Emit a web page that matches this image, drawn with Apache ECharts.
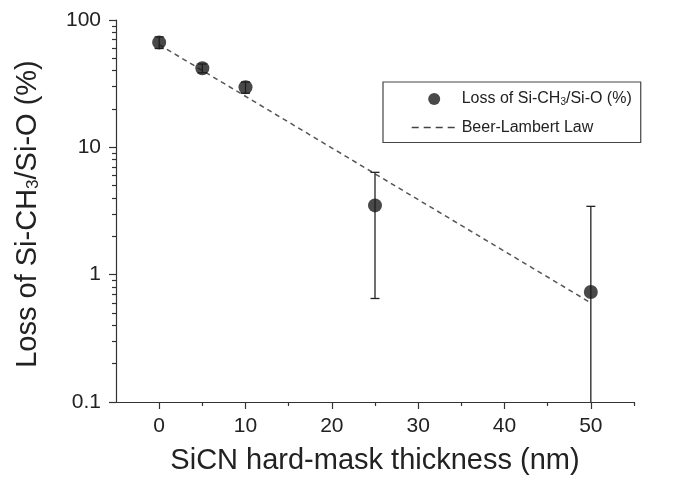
<!DOCTYPE html>
<html>
<head>
<meta charset="utf-8">
<script src="https://cdn.jsdelivr.net/npm/echarts@6/dist/echarts.min.js"></script>
<style>
  html, body { margin: 0; padding: 0; background: #fff; }
  #chart { width: 684px; height: 484px; }
</style>
</head>
<body>
<div id="chart"></div>
<script>
// Measured loss of Si-CH3/Si-O versus SiCN hard-mask thickness
const thickness = [0, 5, 10, 25, 50];
const loss = [66.7, 41.8, 29.6, 3.5, 0.73];
const lossLow = [59.7, 38.5, 26.6, 0.65, 0.01];
const lossHigh = [73.7, 45.1, 32.6, 6.36, 3.44];

// Beer-Lambert fit (straight line on the log axis)
const fitThickness = [0, 50];
const fitLoss = [64, 0.6];

// Axis ticks
const xMajorTicks = [0, 10, 20, 30, 40, 50];
const xMinorTicks = [5, 15, 25, 35, 45, 55];
const yMinorTicks = [0.2, 0.3, 0.4, 0.5, 0.6, 0.7, 0.8, 0.9,
                     2, 3, 4, 5, 6, 7, 8, 9,
                     20, 30, 40, 50, 60, 70, 80, 90];

const FONT = 'Liberation Sans, Arial, sans-serif';
const INK = '#222';
const AXIS = '#333';

const pointData = thickness.map((x, i) => [x, loss[i]]);
const barData = thickness.map((x, i) => [x, loss[i], lossLow[i], lossHigh[i]]);
const fitData = fitThickness.map((x, i) => [x, fitLoss[i]]);

const chart = echarts.init(document.getElementById('chart'), null, { renderer: 'canvas' });
chart.setOption({
  animation: false,
  backgroundColor: '#fff',
  textStyle: { fontFamily: FONT, color: INK },
  grid: { left: 116, right: 50, top: 20, bottom: 82, containLabel: false },
  legend: {
    orient: 'vertical',
    left: 383,
    top: 82,
    padding: [9, 9, 7, 28],
    itemWidth: 45,
    itemHeight: 12,
    itemGap: 12,
    borderColor: '#444',
    borderWidth: 1.2,
    borderRadius: 0,
    lineStyle: { type: [7, 5], width: 1.4 },
    data: [
      { name: 'loss', icon: 'circle' },
      {
        name: 'fit',
        itemStyle: { color: 'rgba(0,0,0,0)', borderWidth: 0, opacity: 0 },
        lineStyle: { color: '#444', width: 1.4, type: [7, 5] }
      }
    ],
    formatter: name => name === 'loss' ? 'Loss of Si-CH{sub|3}/Si-O (%)' : 'Beer-Lambert Law',
    textStyle: { fontSize: 16, fontFamily: FONT, color: INK, rich: {
      sub: { fontSize: 10, fontFamily: FONT, color: INK, verticalAlign: 'bottom', padding: [7, 0, 0, 0] }
    } }
  },
  xAxis: [
    {
      type: 'value',
      min: -5,
      max: 55,
      name: 'SiCN hard-mask thickness (nm)',
      nameLocation: 'middle',
      nameGap: 44,
      nameTextStyle: { fontSize: 29, fontFamily: FONT, color: INK },
      axisLine: { show: true, onZero: false, lineStyle: { color: AXIS, width: 1.2 } },
      axisTick: { show: true, customValues: xMajorTicks, length: 7, lineStyle: { color: AXIS, width: 1.2 } },
      axisLabel: { customValues: xMajorTicks, fontSize: 21, fontFamily: FONT, color: INK, margin: 14 },
      splitLine: { show: false }
    },
    {
      type: 'value',
      min: -5,
      max: 55,
      position: 'bottom',
      axisLine: { show: false, onZero: false },
      axisTick: { show: true, customValues: xMinorTicks, length: 4, lineStyle: { color: AXIS, width: 1.2 } },
      axisLabel: { show: false },
      splitLine: { show: false }
    }
  ],
  yAxis: [
    {
      type: 'log',
      logBase: 10,
      min: 0.1,
      max: 100,
      name: 'Loss of Si-CH{sub|3}/Si-O (%)',
      nameLocation: 'middle',
      nameGap: 74,
      nameTextStyle: { fontSize: 29, fontFamily: FONT, color: INK, padding: [0, 6, 0, 0], rich: {
        sub: { fontSize: 17, fontFamily: FONT, color: INK, verticalAlign: 'bottom', padding: [12, 0, 0, 0] }
      } },
      axisLine: { show: true, onZero: false, lineStyle: { color: AXIS, width: 1.2 } },
      axisTick: { show: true, length: 7, lineStyle: { color: AXIS, width: 1.2 } },
      axisLabel: { fontSize: 21, fontFamily: FONT, color: INK, margin: 15,
        formatter: v => String(+v.toPrecision(3)) },
      splitLine: { show: false },
      minorTick: { show: false }
    },
    {
      type: 'log',
      logBase: 10,
      min: 0.1,
      max: 100,
      position: 'left',
      axisLine: { show: false, onZero: false },
      axisTick: { show: true, customValues: yMinorTicks, length: 4, lineStyle: { color: AXIS, width: 1.2 } },
      axisLabel: { show: false },
      splitLine: { show: false }
    }
  ],
  series: [
    {
      name: 'fit',
      type: 'line',
      xAxisIndex: 0,
      yAxisIndex: 0,
      data: fitData,
      showSymbol: false,
      symbol: 'none',
      lineStyle: { color: '#555', width: 1.5, type: [5, 4] },
      itemStyle: { color: '#555' },
      z: 2
    },
    {
      name: 'errorbars',
      type: 'custom',
      xAxisIndex: 0,
      yAxisIndex: 0,
      data: barData,
      clip: true,
      encode: { x: 0, y: 1 },
      renderItem: (params, api) => {
        const x = api.value(0);
        const lo = api.coord([x, api.value(2)]);
        const hi = api.coord([x, api.value(3)]);
        const cap = 4.5;
        const style = { stroke: '#222', lineWidth: 1.3 };
        return {
          type: 'group',
          children: [
            { type: 'line', shape: { x1: hi[0], y1: hi[1], x2: lo[0], y2: lo[1] }, style },
            { type: 'line', shape: { x1: hi[0] - cap, y1: hi[1], x2: hi[0] + cap, y2: hi[1] }, style },
            { type: 'line', shape: { x1: lo[0] - cap, y1: lo[1], x2: lo[0] + cap, y2: lo[1] }, style }
          ]
        };
      },
      z: 3
    },
    {
      name: 'loss',
      type: 'scatter',
      xAxisIndex: 0,
      yAxisIndex: 0,
      data: pointData,
      symbol: 'circle',
      symbolSize: 14,
      itemStyle: { color: '#1c1c1c' },
      z: 4
    }
  ]
});
</script>
</body>
</html>
